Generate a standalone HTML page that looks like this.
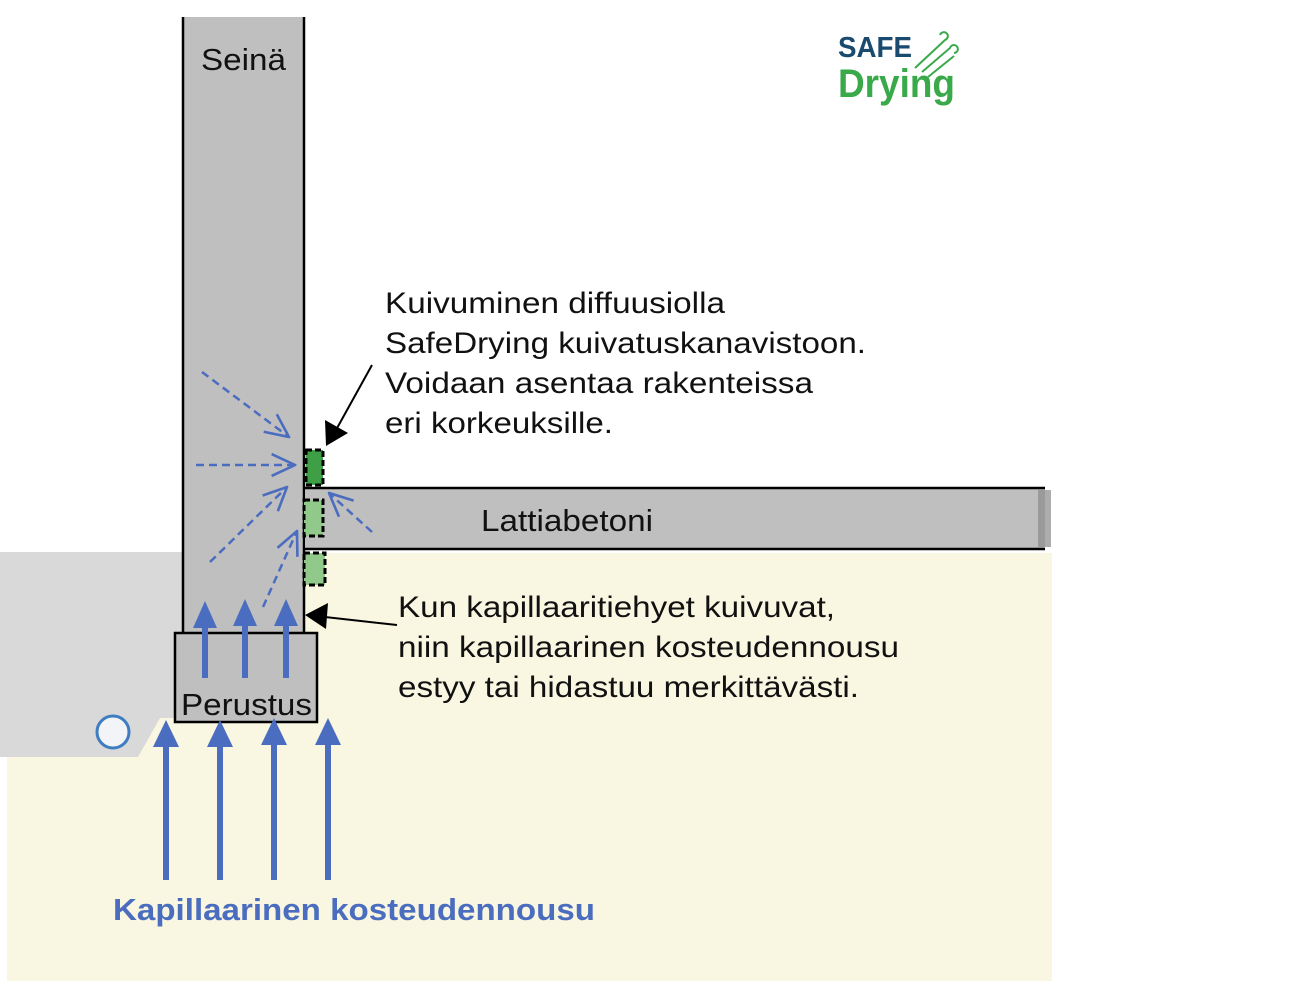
<!DOCTYPE html>
<html><head><meta charset="utf-8"><style>
html,body{margin:0;padding:0;background:#fff;width:1299px;height:981px;overflow:hidden}
svg{display:block}
text{font-family:"Liberation Sans",Arial,sans-serif}
</style></head><body>
<svg width="1299" height="981" viewBox="0 0 1299 981" xmlns="http://www.w3.org/2000/svg">
<defs>
<marker id="ob" viewBox="0 0 10 10" refX="9.5" refY="5" markerWidth="26" markerHeight="26" orient="auto" markerUnits="userSpaceOnUse"><path d="M0.5,0.8 L9.5,5 L0.5,9.2" fill="none" stroke="#4a6dbf" stroke-width="1"/></marker>
</defs>
<rect x="7" y="553" width="1045" height="428" fill="#f9f6e1"/>
<path d="M0,552 L183,552 L183,718 L160,718 L138,757 L0,757 Z" fill="#d9d9d9"/>
<rect x="183" y="17" width="121" height="616" fill="#c0bfc0"/>
<line x1="183" y1="17" x2="183" y2="633" stroke="#000" stroke-width="2.5"/>
<line x1="304" y1="17" x2="304" y2="633" stroke="#000" stroke-width="2.5"/>
<rect x="305" y="488" width="740" height="61" fill="#c0bfc0"/>
<rect x="1038" y="490" width="13" height="57" fill="#8a8a8a" opacity="0.7"/>
<line x1="305" y1="488" x2="1045" y2="488" stroke="#000" stroke-width="2.5"/>
<line x1="305" y1="549" x2="1045" y2="549" stroke="#000" stroke-width="2.5"/>
<rect x="175" y="633" width="142" height="89" fill="#c0bfc0" stroke="#000" stroke-width="2.5"/>
<rect x="306" y="450" width="17" height="35" fill="#3f9f46" stroke="#000" stroke-width="3" stroke-dasharray="6,3"/>
<rect x="304" y="500" width="19" height="36" fill="#91c98a" stroke="#000" stroke-width="3" stroke-dasharray="6,3"/>
<rect x="304" y="553" width="21" height="32" fill="#91c98a" stroke="#000" stroke-width="3" stroke-dasharray="6,3"/>
<g stroke="#4a6dbf" stroke-width="2.5" fill="none" stroke-dasharray="8,5">
<line x1="202" y1="372" x2="289" y2="437" marker-end="url(#ob)"/>
<line x1="196" y1="465" x2="295" y2="465" marker-end="url(#ob)"/>
<line x1="210" y1="562" x2="287" y2="487" marker-end="url(#ob)"/>
<line x1="263" y1="607" x2="297" y2="531" marker-end="url(#ob)"/>
<line x1="372" y1="532" x2="329" y2="493" marker-end="url(#ob)"/>
</g>
<g fill="#4a6dbf" stroke="#4a6dbf">
<line x1="205" y1="678" x2="205" y2="625" stroke-width="6"/><path d="M193,628 L205,601 L217,628 Z" stroke="none"/>
<line x1="245" y1="678" x2="245" y2="625" stroke-width="6"/><path d="M233,626 L245,599 L257,626 Z" stroke="none"/>
<line x1="286" y1="678" x2="286" y2="625" stroke-width="6"/><path d="M274,626 L286,599 L298,626 Z" stroke="none"/>
<line x1="166" y1="880" x2="166" y2="742" stroke-width="6"/><path d="M153,747 L166,720 L179,747 Z" stroke="none"/>
<line x1="220" y1="880" x2="220" y2="742" stroke-width="6"/><path d="M207,747 L220,720 L233,747 Z" stroke="none"/>
<line x1="274" y1="880" x2="274" y2="740" stroke-width="6"/><path d="M261,745 L274,718 L287,745 Z" stroke="none"/>
<line x1="328" y1="880" x2="328" y2="740" stroke-width="6"/><path d="M315,745 L328,718 L341,745 Z" stroke="none"/>
</g>
<circle cx="113" cy="732" r="16" fill="#f3f4f8" stroke="#3f7cc0" stroke-width="3"/>
<line x1="372" y1="365" x2="336" y2="430" stroke="#000" stroke-width="2"/>
<path d="M326,446 L325,420 L348,433 Z" fill="#000"/>
<line x1="397" y1="625" x2="325" y2="617" stroke="#000" stroke-width="2"/>
<path d="M305,615 L328,603 L326,629 Z" fill="#000"/>
<text x="201" y="70" font-size="31" fill="#111" textLength="85" lengthAdjust="spacingAndGlyphs">Seinä</text>
<text x="481" y="531" font-size="31" fill="#111" textLength="172" lengthAdjust="spacingAndGlyphs">Lattiabetoni</text>
<text x="181" y="715" font-size="31" fill="#111" textLength="131" lengthAdjust="spacingAndGlyphs">Perustus</text>
<g font-size="30" fill="#111">
<text x="385" y="313" textLength="340" lengthAdjust="spacingAndGlyphs">Kuivuminen diffuusiolla</text>
<text x="385" y="353" textLength="481" lengthAdjust="spacingAndGlyphs">SafeDrying kuivatuskanavistoon.</text>
<text x="385" y="393" textLength="428" lengthAdjust="spacingAndGlyphs">Voidaan asentaa rakenteissa</text>
<text x="385" y="433" textLength="228" lengthAdjust="spacingAndGlyphs">eri korkeuksille.</text>
<text x="398" y="617" textLength="437" lengthAdjust="spacingAndGlyphs">Kun kapillaaritiehyet kuivuvat,</text>
<text x="398" y="657" textLength="501" lengthAdjust="spacingAndGlyphs">niin kapillaarinen kosteudennousu</text>
<text x="398" y="697" textLength="461" lengthAdjust="spacingAndGlyphs">estyy tai hidastuu merkittävästi.</text>
</g>
<text x="113" y="920" font-size="31" font-weight="bold" fill="#4a6dbf" textLength="482" lengthAdjust="spacingAndGlyphs">Kapillaarinen kosteudennousu</text>
<text x="838" y="57" font-size="29" font-weight="bold" fill="#1a4a6e" textLength="74" lengthAdjust="spacingAndGlyphs">SAFE</text>
<text x="838" y="97" font-size="40" font-weight="bold" fill="#3aa94a" textLength="117" lengthAdjust="spacingAndGlyphs">Drying</text>
<g stroke="#3aa94a" stroke-width="2" fill="none">
<path d="M915,68 L945,40 a4,4 0 1 0 -5,-5"/>
<path d="M922,72 L950,48 a4,4 0 1 1 4,5"/>
<path d="M928,77 L954,56"/>
</g>
</svg>
</body></html>
